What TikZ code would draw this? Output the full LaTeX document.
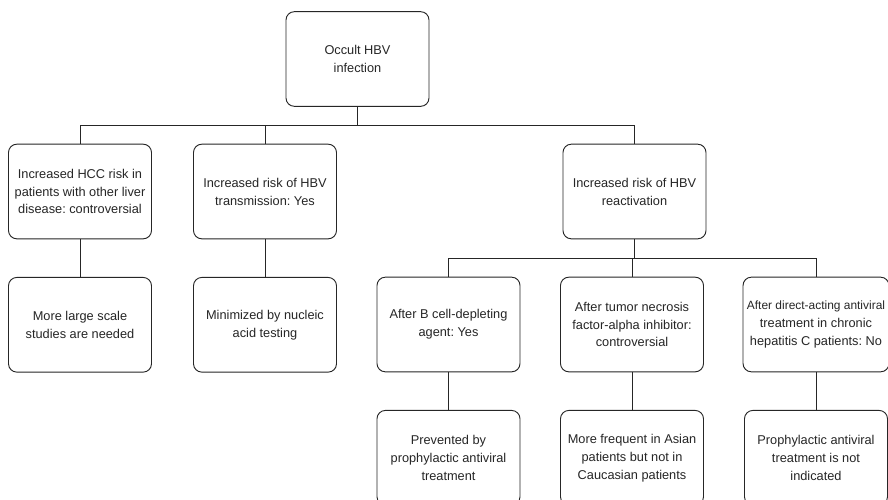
\documentclass[tikz,border=0pt]{standalone}
\usepackage{fontspec}
\setmainfont{Liberation Sans}
\usepackage{tikz}
\usetikzlibrary{positioning}
\frenchspacing

\begin{document}
\begin{tikzpicture}[x=0.03cm,y=-0.03cm]
  \tikzstyle{box} = [draw=black!85,fill=white,text=black!85,rounded corners=0.25cm,line width=0.8pt,
    minimum width=4.29cm,minimum height=2.84cm,align=center,font=\fontsize{10.9}{15.3}\selectfont]
  \tikzstyle{link} = [draw=black!85,line width=0.8pt]

  \useasboundingbox (0,0) rectangle (888,499);
  \clip (0,0) rectangle (888,499);

  \node[box] (Occult) at (357.5,59) {Occult HBV\\infection};

  \node[box] (Risk_0) at (80,191.5) {Increased HCC risk in\\patients with other liver\\disease: controversial};
  \node[box] (Risk_1) at (265,191.5) {Increased risk of HBV\\transmission: Yes};
  \node[box] (Risk_2) at (634.5,191.5) {Increased risk of HBV\\reactivation};

  \node[box] (Note_0) [below = 1.13cm of Risk_0] {More large scale\\studies are needed};
  \node[box] (Note_1) [below = 1.13cm of Risk_1] {Minimized by nucleic\\acid testing};

  \node[box] (After_0) at (448.5,324.5) {After B cell-depleting\\agent: Yes};
  \node[box] (After_1) at (632,324.5) {After tumor necrosis\\factor-alpha inhibitor:\\controversial};
  \node[box] (After_2) at (816,324.5) {\fontsize{10.2}{15.3}\selectfont After direct-acting antiviral\\treatment in chronic\\hepatitis C patients: No};

  \node[box] (Out_0) [below = 1.13cm of After_0] {Prevented by\\prophylactic antiviral\\treatment};
  \node[box] (Out_1) [below = 1.13cm of After_1] {More frequent in Asian\\patients but not in\\Caucasian patients};
  \node[box] (Out_2) [below = 1.13cm of After_2] {Prophylactic antiviral\\treatment is not\\indicated};

  % junctions of the two branch bars
  \coordinate (bar_0) at (357.5,125);
  \coordinate (bar_1) at (634.5,258);

  \draw [link] (Occult.south) -- (bar_0);
  \draw [link] (bar_0) -| (Risk_0.north);
  \draw [link] (bar_0) -| (Risk_1.north);
  \draw [link] (bar_0) -| (Risk_2.north);

  \draw [link] (Risk_0) -- (Note_0);
  \draw [link] (Risk_1) -- (Note_1);

  \draw [link] (Risk_2.south) -- (bar_1);
  \draw [link] (bar_1) -| (After_0.north);
  \draw [link] (bar_1) -| (After_1.north);
  \draw [link] (bar_1) -| (After_2.north);

  \draw [link] (After_0) -- (Out_0);
  \draw [link] (After_1) -- (Out_1);
  \draw [link] (After_2) -- (Out_2);
\end{tikzpicture}
\end{document}
